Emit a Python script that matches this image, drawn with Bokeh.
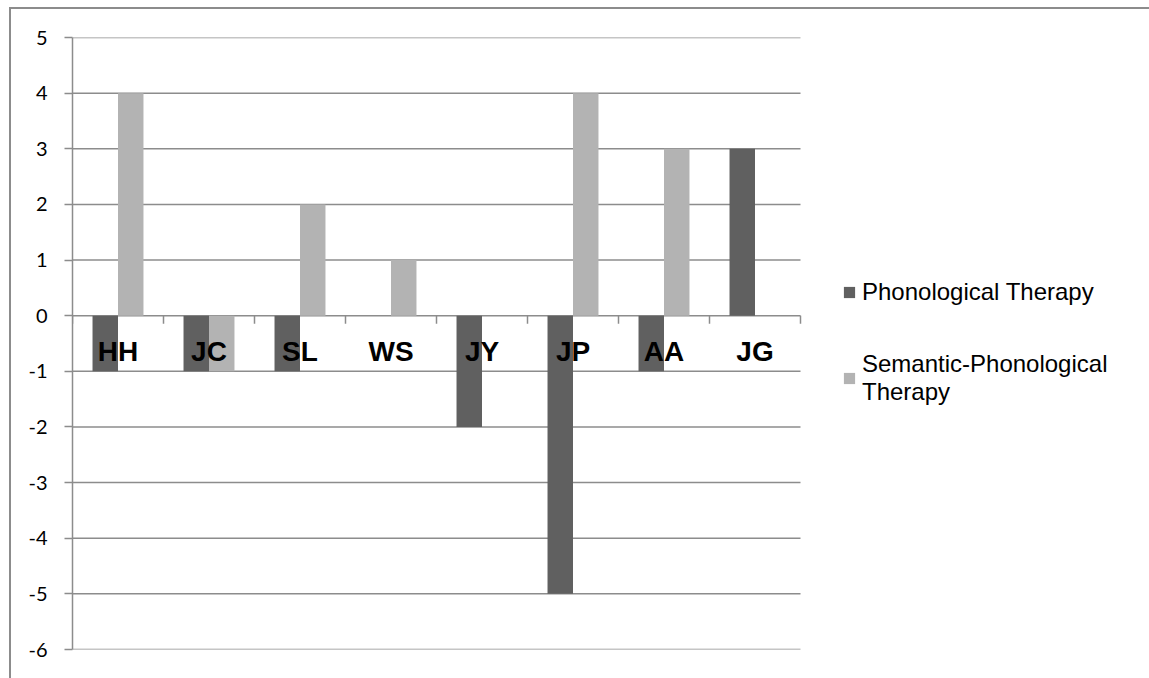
from bokeh.plotting import figure
from bokeh.models import ColumnDataSource, FixedTicker, Legend, LegendItem, Range1d
from bokeh.transform import dodge
from bokeh.core.properties import value
from bokeh.embed import file_html
from bokeh.resources import INLINE

# Change in score per participant for the two therapy types
participants = ["HH", "JC", "SL", "WS", "JY", "JP", "AA", "JG"]
phonological = [-1, -1, -1, 0, -2, -5, -1, 3]
semantic_phonological = [4, -1, 2, 1, 0, 4, 3, 0]
y_ticks = [-6, -5, -4, -3, -2, -1, 0, 1, 2, 3, 4, 5]

series_names = ["Phonological Therapy", "Semantic-Phonological\nTherapy"]

DARK = "#606060"
LIGHT = "#b3b3b3"
GRID = "#8c8c8c"

# the frame runs to the right edge so the legend can sit beside the bars;
# the category area takes the left 728 of its 1079 pixels
n = len(participants)
x_end = n * 1079 / 728

centers = [i + 0.5 for i in range(n)]
source = ColumnDataSource(dict(
    x=centers,
    name=participants,
    phon=phonological,
    sem=semantic_phonological,
    zero=[0] * n,
))

p = figure(
    width=1140, height=671,
    x_range=Range1d(0, x_end),
    y_range=Range1d(min(y_ticks), max(y_ticks)),
    x_axis_location=None,
    output_backend="svg",
    toolbar_location=None,
    min_border_left=61, min_border_top=28,
    min_border_right=0, min_border_bottom=31,
)
p.margin = (7, 0, 0, 9)
p.styles = {"border-left": f"2px solid {GRID}", "border-top": f"2px solid {GRID}"}
p.outline_line_color = None
p.background_fill_color = "white"
p.border_fill_color = "white"
p.xgrid.visible = False
p.ygrid.visible = False

# horizontal gridlines across the category area
p.segment(x0=[0] * len(y_ticks), x1=[n] * len(y_ticks), y0=y_ticks, y1=y_ticks,
          line_color=GRID, line_width=1.5)

# value axis, plain hyphen for negatives
ax = p.yaxis[0]
ax.ticker = FixedTicker(ticks=y_ticks)
ax.major_label_overrides = {t: str(t) for t in y_ticks}
ax.axis_line_color = GRID
ax.axis_line_width = 1.5
ax.major_tick_line_color = GRID
ax.major_tick_line_width = 1.5
ax.major_tick_out = 8
ax.major_tick_in = 0
ax.minor_tick_line_color = None
ax.major_label_standoff = 17
ax.major_label_text_font = "Lato"
ax.major_label_text_font_size = "20px"
ax.major_label_text_color = "black"

# bars
r_phon = p.vbar(x=dodge("x", -0.14, range=p.x_range), top="phon", bottom="zero",
                width=0.28, source=source, fill_color=DARK, line_color=None)
r_sem = p.vbar(x=dodge("x", 0.14, range=p.x_range), top="sem", bottom="zero",
               width=0.28, source=source, fill_color=LIGHT, line_color=None)

# category axis drawn along the zero line
bounds = list(range(n + 1))
p.segment(x0=bounds, y0=[0] * len(bounds), x1=bounds, y1=[-0.145] * len(bounds),
          line_color=GRID, line_width=1.5)
p.text(x="x", y="zero", text="name", source=source,
       text_font=value("Liberation Sans"), text_font_style="bold",
       text_font_size="28px", text_color="black",
       text_align="center", text_baseline="middle", y_offset=36)

legend = Legend(
    items=[LegendItem(label=series_names[0], renderers=[r_phon]),
           LegendItem(label=series_names[1], renderers=[r_sem])],
    location=(770, 243),
    orientation="vertical",
    padding=0, margin=0, spacing=44,
    glyph_width=14, glyph_height=14, label_standoff=6,
    label_text_font="Liberation Sans", label_text_font_size="24px",
    label_text_color="black",
    border_line_color=None, background_fill_alpha=0,
)
p.add_layout(legend, "center")

open("out.html", "w").write(file_html(p, INLINE))
